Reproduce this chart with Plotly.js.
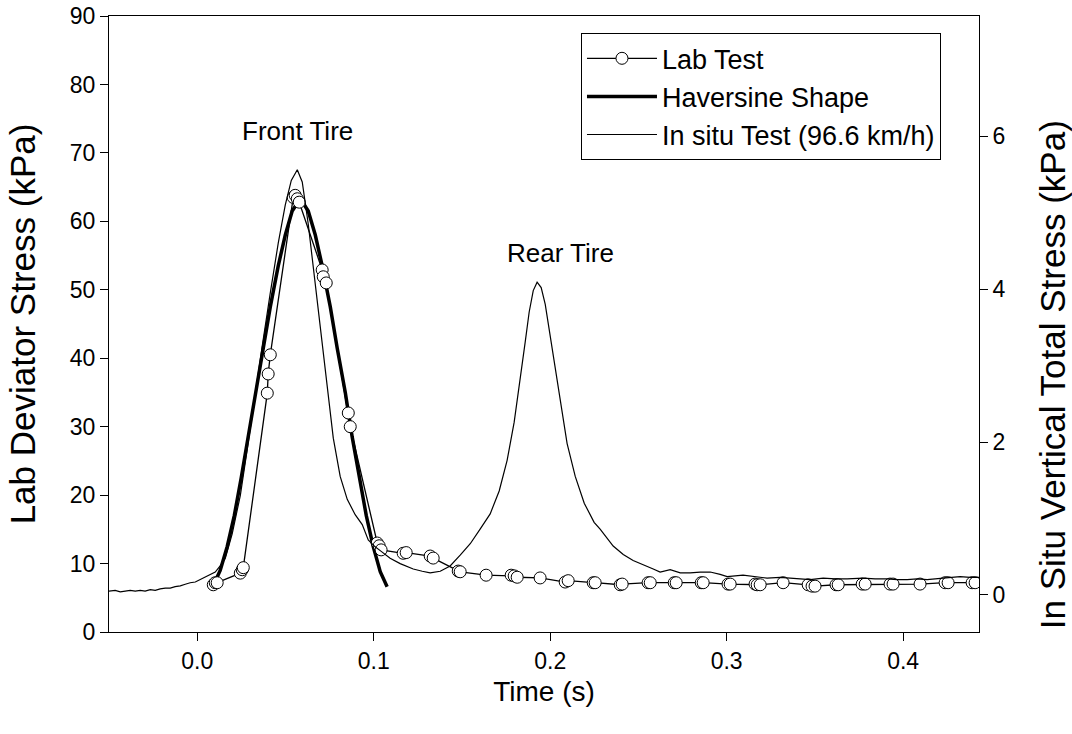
<!DOCTYPE html>
<html>
<head>
<meta charset="utf-8">
<script src="https://cdn.plot.ly/plotly-3.0.1.min.js"></script>
<style>
  html, body { margin: 0; padding: 0; background: #ffffff; }
  #chart { width: 1072px; height: 734px; }
</style>
</head>
<body>
<div id="chart"></div>
<script>
// ---- Lab test (left axis, kPa) ----
const labTime = [0.0091, 0.0102, 0.0113, 0.0244, 0.0255, 0.0261, 0.0397, 0.0402, 0.0414,
  0.0544, 0.0555, 0.0567, 0.0578, 0.0708, 0.0714, 0.0731, 0.0856, 0.0867,
  0.1020, 0.1031, 0.1042, 0.1167, 0.1184, 0.1320, 0.1337, 0.1479, 0.1490,
  0.1637, 0.1779, 0.1796, 0.1813, 0.1943, 0.2085, 0.2102, 0.2244, 0.2255,
  0.2397, 0.2408, 0.2555, 0.2567, 0.2703, 0.2714, 0.2856, 0.2867, 0.3008,
  0.3020, 0.3161, 0.3173, 0.3190, 0.3320, 0.3462, 0.3484, 0.3501, 0.3620,
  0.3632, 0.3768, 0.3785, 0.3926, 0.3943, 0.4096, 0.4238, 0.4255, 0.4391, 0.4408];
const labStress = [6.9, 7.2, 7.2, 8.6, 9.1, 9.4, 34.9, 37.7, 40.5,
  63.5, 63.8, 63.3, 62.8, 52.9, 51.9, 51.0, 32.0, 30.0,
  13.0, 12.6, 12.0, 11.5, 11.6, 11.1, 10.8, 8.9, 8.8,
  8.3, 8.3, 8.2, 8.0, 7.9, 7.3, 7.5, 7.2, 7.2,
  6.9, 7.0, 7.2, 7.2, 7.2, 7.2, 7.2, 7.2, 7.0,
  7.0, 7.0, 6.9, 6.9, 7.2, 6.9, 6.7, 6.7, 6.9,
  6.9, 7.0, 7.0, 7.0, 7.0, 7.0, 7.2, 7.2, 7.2, 7.2];

// ---- Haversine shape (left axis, kPa) ----
const havTime = [0.0095, 0.0130, 0.0170, 0.0210, 0.0249, 0.0289, 0.0329, 0.0374, 0.0414,
  0.0459, 0.0499, 0.0538, 0.0584, 0.0629, 0.0669, 0.0708, 0.0754, 0.0793,
  0.0839, 0.0878, 0.0918, 0.0958, 0.0997, 0.1037, 0.1076];
const havStress = [7.0, 9.0, 12.5, 17.0, 22.5, 28.5, 35.0, 41.5, 47.5,
  53.5, 58.0, 61.5, 63.3, 61.5, 58.0, 53.5, 47.5, 41.5,
  35.0, 28.5, 22.5, 17.0, 12.5, 8.8, 6.6];

// ---- In situ test, 96.6 km/h (right axis, kPa) ----
const situTime = [-0.0500, -0.0465, -0.0436, -0.0408, -0.0380, -0.0351, -0.0323, -0.0295,
  -0.0266, -0.0238, -0.0210, -0.0181, -0.0153, -0.0125, -0.0096, -0.0068, -0.0040,
  -0.0011, 0.0017, 0.0045, 0.0074, 0.0102, 0.0130, 0.0159, 0.0198, 0.0244, 0.0283,
  0.0323, 0.0368, 0.0414, 0.0459, 0.0499, 0.0533, 0.0567, 0.0595, 0.0629, 0.0669,
  0.0714, 0.0771, 0.0810, 0.0850, 0.0895, 0.0935, 0.0969, 0.1008, 0.1037, 0.1093,
  0.1150, 0.1224, 0.1275, 0.1320, 0.1377, 0.1433, 0.1490, 0.1547, 0.1603, 0.1660,
  0.1711, 0.1756, 0.1796, 0.1830, 0.1858, 0.1881, 0.1904, 0.1926, 0.1949, 0.1972,
  0.1994, 0.2023, 0.2057, 0.2096, 0.2142, 0.2193, 0.2249, 0.2283, 0.2357, 0.2414,
  0.2470, 0.2527, 0.2584, 0.2623, 0.2680, 0.2737, 0.2793, 0.2850, 0.2907, 0.2963,
  0.3003, 0.3093, 0.3150, 0.3229, 0.3303, 0.3377, 0.3473, 0.3547, 0.3615, 0.3683,
  0.3773, 0.3841, 0.3909, 0.3966, 0.4023, 0.4079, 0.4136, 0.4227, 0.4266, 0.4323,
  0.4380, 0.4431];
const situStress = [0.05, 0.06, 0.04, 0.05, 0.06, 0.05, 0.06, 0.05,
  0.07, 0.06, 0.08, 0.09, 0.09, 0.11, 0.12, 0.14, 0.16,
  0.17, 0.20, 0.23, 0.26, 0.30, 0.38, 0.48, 0.80, 1.30, 1.90,
  2.55, 3.25, 3.95, 4.60, 5.10, 5.42, 5.56, 5.40, 4.85, 4.05,
  3.20, 2.05, 1.55, 1.25, 1.05, 0.92, 0.72, 0.63, 0.58, 0.48,
  0.41, 0.34, 0.31, 0.29, 0.31, 0.38, 0.52, 0.67, 0.86, 1.06,
  1.36, 1.76, 2.26, 2.80, 3.30, 3.70, 3.98, 4.09, 4.02, 3.80,
  3.48, 3.00, 2.50, 1.98, 1.55, 1.20, 0.95, 0.86, 0.64, 0.53,
  0.45, 0.39, 0.34, 0.30, 0.33, 0.29, 0.29, 0.30, 0.30, 0.27,
  0.24, 0.26, 0.24, 0.22, 0.23, 0.22, 0.20, 0.22, 0.21, 0.21,
  0.22, 0.21, 0.21, 0.20, 0.20, 0.21, 0.20, 0.22, 0.23, 0.24,
  0.23, 0.23];

const xTickVals = [0, 0.1, 0.2, 0.3, 0.4];
const xTickText = ["0.0", "0.1", "0.2", "0.3", "0.4"];
const yRightTicks = [0, 2, 4, 6];

const FONT = "Liberation Sans, Arial, sans-serif";

const traces = [
  {
    x: situTime, y: situStress, yaxis: "y2", type: "scatter", mode: "lines",
    name: "In situ Test (96.6 km/h)", legendrank: 3,
    line: { color: "#000000", width: 1.2 }
  },
  {
    x: havTime, y: havStress, type: "scatter", mode: "lines",
    name: "Haversine Shape", legendrank: 2,
    line: { color: "#000000", width: 3.5 }
  },
  {
    x: labTime, y: labStress, type: "scatter", mode: "lines+markers",
    name: "Lab Test", legendrank: 1,
    line: { color: "#000000", width: 1.3 },
    marker: { symbol: "circle", size: 12, color: "#ffffff", line: { color: "#000000", width: 1 } }
  }
];

const layout = {
  width: 1072, height: 734,
  margin: { l: 109, r: 93, t: 16, b: 102, pad: 0 },
  paper_bgcolor: "#ffffff", plot_bgcolor: "#ffffff",
  font: { family: FONT, size: 24, color: "#000000" },
  showlegend: true,
  legend: {
    x: 0.9563, xanchor: "right", y: 0.972, yanchor: "top",
    bgcolor: "#ffffff", bordercolor: "#000000", borderwidth: 1,
    font: { family: FONT, size: 27, color: "#000000" },
    itemwidth: 70, tracegroupgap: 0
  },
  xaxis: {
    range: [-0.05, 0.443], tickvals: xTickVals, ticktext: xTickText,
    ticks: "outside", ticklen: 8, tickwidth: 1, tickcolor: "#000000",
    showline: true, linecolor: "#000000", linewidth: 1, mirror: true,
    showgrid: false, zeroline: false,
    tickfont: { family: FONT, size: 23 },
    title: { text: "Time (s)", font: { family: FONT, size: 28 }, standoff: 8 }
  },
  yaxis: {
    range: [0, 90], dtick: 10, tick0: 0,
    ticks: "outside", ticklen: 8, tickwidth: 1, tickcolor: "#000000",
    showline: true, linecolor: "#000000", linewidth: 1,
    showgrid: false, zeroline: false,
    tickfont: { family: FONT, size: 23 },
    title: { text: "Lab Deviator Stress (kPa)", font: { family: FONT, size: 35 }, standoff: 23 }
  },
  yaxis2: {
    overlaying: "y", side: "right",
    range: [-0.484, 7.57], tickvals: yRightTicks,
    ticks: "outside", ticklen: 8, tickwidth: 1, tickcolor: "#000000",
    showline: true, linecolor: "#000000", linewidth: 1,
    showgrid: false, zeroline: false,
    tickfont: { family: FONT, size: 23 }
  },
  annotations: [
    { text: "Front Tire", x: 0.057, y: 73.2, xref: "x", yref: "y", showarrow: false,
      font: { family: FONT, size: 26, color: "#000000" } },
    { text: "Rear Tire", x: 0.2057, y: 55.4, xref: "x", yref: "y", showarrow: false,
      font: { family: FONT, size: 26, color: "#000000" } },
    { text: "In Situ Vertical Total Stress (kPa)", xref: "paper", yref: "paper",
      x: 1.084, y: 0.417, xanchor: "center", yanchor: "middle", textangle: -90,
      showarrow: false, font: { family: FONT, size: 35, color: "#000000" } }
  ]
};

Plotly.newPlot("chart", traces, layout, { displayModeBar: false, staticPlot: true });
</script>
</body>
</html>
